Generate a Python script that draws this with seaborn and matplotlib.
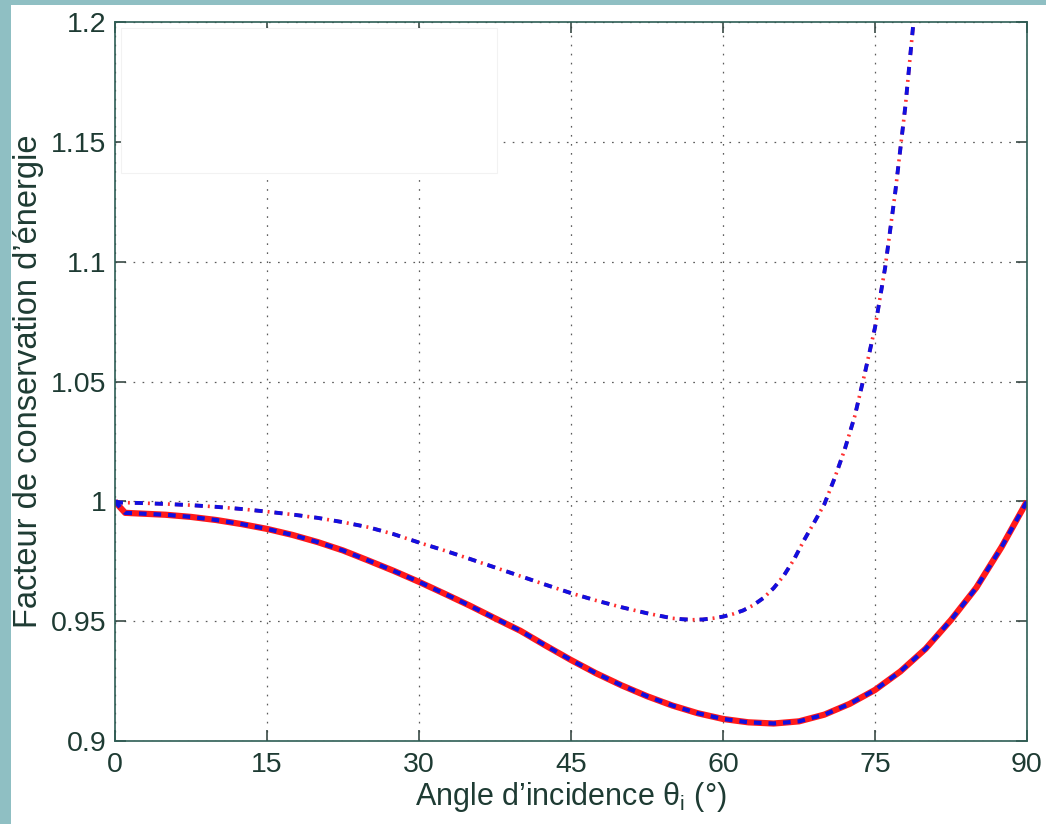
import numpy as np
import pandas as pd
import matplotlib as mpl
mpl.use('Agg')  # no UI backend
import matplotlib.pyplot as plt
from matplotlib.patches import Rectangle
import seaborn as sns

# values
# lower curve (solid red + blue dashes)
angle_a = [0, 0.5, 1, 2.5, 5, 7.5, 10, 12.5, 15, 17.5, 20, 22.5, 25, 27.5, 30, 32.5, 35,
           37.5, 40, 42.5, 45, 47.5, 50, 52.5, 55, 57.5, 60, 62.5, 65, 67.5, 70, 72.5,
           75, 77.5, 80, 82.5, 85, 87.5, 90]
facteur_a = [1.0, 0.9975, 0.9952, 0.9949, 0.9944, 0.9935, 0.9922, 0.9905, 0.9885, 0.9860,
             0.9830, 0.9795, 0.9753, 0.9710, 0.9664, 0.9615, 0.9565, 0.9512, 0.9460,
             0.9398, 0.9338, 0.9282, 0.9232, 0.9187, 0.9148, 0.9116, 0.9092, 0.9078,
             0.9073, 0.9082, 0.9110, 0.9155, 0.9213, 0.9290, 0.9385, 0.9505, 0.9640,
             0.9810, 1.0]

# upper curve (dash-dot)
angle_b = [0, 0.5, 2.5, 5, 7.5, 10, 12.5, 15, 17.5, 20, 22.5, 25, 27.5, 30, 32.5, 35,
           37.5, 40, 42.5, 45, 47.5, 50, 52.5, 55, 56, 57, 58, 59, 60, 61, 62, 63, 64,
           65, 66, 67, 68, 69, 70, 71, 72, 73, 74, 75, 76, 77, 78, 78.8, 79.2]
facteur_b = [1.0, 0.9995, 0.9993, 0.9989, 0.9984, 0.9977, 0.9968, 0.9957, 0.9945, 0.9931,
             0.9913, 0.9892, 0.9863, 0.9828, 0.9795, 0.9760, 0.9724, 0.9688, 0.9652,
             0.9617, 0.9586, 0.9558, 0.9533, 0.9512, 0.9508, 0.9506, 0.9507, 0.9512,
             0.9519, 0.9530, 0.9545, 0.9567, 0.9597, 0.9638, 0.9690, 0.9757, 0.9838,
             0.9912, 0.9988, 1.0095, 1.0215, 1.0355, 1.0535, 1.0725, 1.0975, 1.1290,
             1.1650, 1.2000, 1.2200]

x_ticks = [0, 15, 30, 45, 60, 75, 90]
y_ticks = [0.9, 0.95, 1.0, 1.05, 1.1, 1.15, 1.2]
y_ticklabels = ['0.9', '0.95', '1', '1.05', '1.1', '1.15', '1.2']

df_a = pd.DataFrame({'angle': angle_a, 'facteur': facteur_a})
df_b = pd.DataFrame({'angle': angle_b, 'facteur': facteur_b})

sns.set_style('ticks')
ink = '#1e3b33'
plt.rcParams['font.family'] = ['Liberation Sans', 'DejaVu Sans']
plt.rcParams['mathtext.fontset'] = 'custom'
plt.rcParams['mathtext.rm'] = 'Liberation Sans'
plt.rcParams['mathtext.it'] = 'Liberation Sans'
plt.rcParams['lines.scale_dashes'] = False
plt.rcParams['lines.solid_joinstyle'] = 'round'
plt.rcParams['lines.dash_joinstyle'] = 'round'
plt.rcParams['text.color'] = ink
plt.rcParams['axes.labelcolor'] = ink


def main():
    fig = plt.figure(figsize=(10.46, 8.24), dpi=100, facecolor='#8fbfc3')
    # white slide area around the plot, teal strips left and top
    fig.patches.append(Rectangle((11 / 1046, 0), 1, (824 - 5) / 824, transform=fig.transFigure,
                                 facecolor='white', edgecolor='none', zorder=-10))
    ax = fig.add_axes([115 / 1046, 83 / 824, 912 / 1046, 719 / 824])
    ax.set_facecolor('white')
    ax.set_axisbelow(True)

    sns.lineplot(data=df_a, x='angle', y='facteur', ax=ax, color='#ff1a1a', lw=4.5,
                 solid_capstyle='butt', zorder=3)
    sns.lineplot(data=df_a, x='angle', y='facteur', ax=ax, color='#1010e0', lw=3,
                 linestyle=(0, (5.5, 5.0)), zorder=4)
    sns.lineplot(data=df_b, x='angle', y='facteur', ax=ax, color='#ff3030', lw=2.6,
                 linestyle=(0, (5.8, 3.6, 1.4, 3.6)), zorder=3)
    sns.lineplot(data=df_b, x='angle', y='facteur', ax=ax, color='#1010e0', lw=2.8,
                 linestyle=(0, (5.8, 8.6)), zorder=4)

    ax.set_xlim(0, 90)
    ax.set_ylim(0.9, 1.2)
    ax.set_xticks(x_ticks)
    ax.set_xticklabels([str(t) for t in x_ticks])
    ax.set_yticks(y_ticks)
    ax.set_yticklabels(y_ticklabels)

    ax.grid(True, color='#5a5a5a', lw=0.9, linestyle=(0, (1.2, 5.3)))
    ax.tick_params(direction='in', length=8, width=1.2, color='#3a4a46', labelsize=20.5,
                   labelcolor=ink, top=True, right=True, pad=6)
    ax.tick_params(axis='x', pad=8)
    for sp in ax.spines.values():
        sp.set_visible(True)
        sp.set_color('#2e5e55')
        sp.set_linewidth(1.2)
        sp.set_zorder(5)

    # blank (erased legend) box in the upper left corner
    ax.add_patch(Rectangle((0.007, 0.79), 0.412, 0.2015, transform=ax.transAxes,
                           facecolor='white', edgecolor='#f2f2f2', lw=0.8, zorder=1))

    ax.set_xlabel('Angle d\u2019incidence \u03b8$_\\mathrm{i}$ (\u00b0)', fontsize=22, labelpad=1)
    ax.set_ylabel('Facteur de conservation d\u2019\u00e9nergie', fontsize=23.5, labelpad=5)

    fig.savefig('out.png', dpi=100, facecolor=fig.get_facecolor())


if __name__ == '__main__':
    main()
